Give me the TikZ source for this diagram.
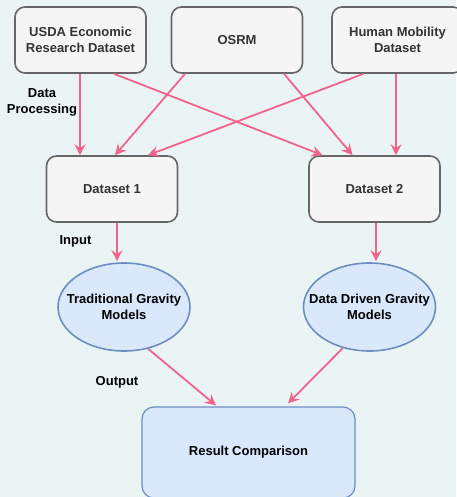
\documentclass[tikz,border=0pt]{standalone}
\usepackage{fontspec}
\setmainfont{Liberation Sans}
\usetikzlibrary{arrows.meta,shapes.geometric}
\definecolor{bgc}{HTML}{EBF4F5}
\definecolor{boxfill}{HTML}{F5F5F5}
\definecolor{boxline}{HTML}{666666}
\definecolor{boxtext}{HTML}{333333}
\definecolor{elfill}{HTML}{DAE8FC}
\definecolor{elline}{HTML}{6C8EBF}
\definecolor{pinkarrow}{HTML}{F0648C}
\tikzset{
  graybox/.style={draw=boxline, fill=boxfill, line width=1.6pt, rounded corners=10pt,
    minimum width=131pt, minimum height=66pt, align=center, text=boxtext,
    font=\fontsize{13}{16}\selectfont\bfseries, inner sep=0pt},
  bluebox/.style={draw=elline, fill=elfill, line width=1.2pt, rounded corners=12pt,
    minimum width=213pt, minimum height=91pt, align=center, text=black,
    font=\fontsize{13}{16}\selectfont\bfseries, inner sep=0pt},
  blueell/.style={ellipse, draw=elline, fill=elfill, line width=1.6pt,
    minimum width=132pt, minimum height=88pt, align=center, text=black,
    font=\fontsize{13}{16}\selectfont\bfseries, inner xsep=-20pt, inner ysep=0pt},
  flow/.style={draw=pinkarrow, line width=1.8pt,
    -{Stealth[length=11pt,width=11pt,inset=4pt]}},
  lbl/.style={align=center, text=black, font=\fontsize{13}{16}\selectfont\bfseries, inner sep=0pt}
}
\begin{document}
\begin{tikzpicture}[x=1pt,y=-1pt]
\useasboundingbox (0,0) rectangle (456,497);
\fill[bgc] (0,0) rectangle (456,497);
\node[graybox] (usda) at (80.5,40) {USDA Economic\\Research Dataset};
\node[graybox] (osrm) at (237,40) {OSRM};
\node[graybox] (human) at (397.5,40) {Human Mobility\\Dataset};
\node[graybox] (d1) at (112,189) {Dataset 1};
\node[graybox] (d2) at (374.5,189) {Dataset 2};
\node[blueell] (e1) at (124,307) {Traditional Gravity\\Models};
\node[blueell] (e2) at (369.5,307) {Data Driven Gravity\\Models};
\node[bluebox] (res) at (248.5,452.5) {Result Comparison};
\node[lbl] (lproc) at (42,102) {Data\\Processing};
\node[lbl] (linput) at (75.5,241) {Input};
\node[lbl] (loutput) at (117,382) {Output};
\draw[flow] ([xshift=-0.5]usda.south) -- ([xshift=-32]d1.north);
\draw[flow] ([xshift=33.5]usda.south) -- ([xshift=-52]d2.north);
\draw[flow] ([xshift=-52]osrm.south) -- ([xshift=3]d1.north);
\draw[flow] ([xshift=47]osrm.south) -- ([xshift=-22]d2.north);
\draw[flow] ([xshift=-34]human.south) -- ([xshift=36]d1.north);
\draw[flow] ([xshift=-1.5]human.south) -- ([xshift=21.5]d2.north);
\draw[flow] ([xshift=5]d1.south) -- ([xshift=-7,yshift=1]e1.north);
\draw[flow] ([xshift=1.5]d2.south) -- ([xshift=6.5,yshift=1]e2.north);
\draw[flow] (e1.-60) -- ([xshift=-32.5,yshift=1]res.north);
\draw[flow] (e2.-123) -- ([xshift=39.5,yshift=3]res.north);
\end{tikzpicture}
\end{document}
